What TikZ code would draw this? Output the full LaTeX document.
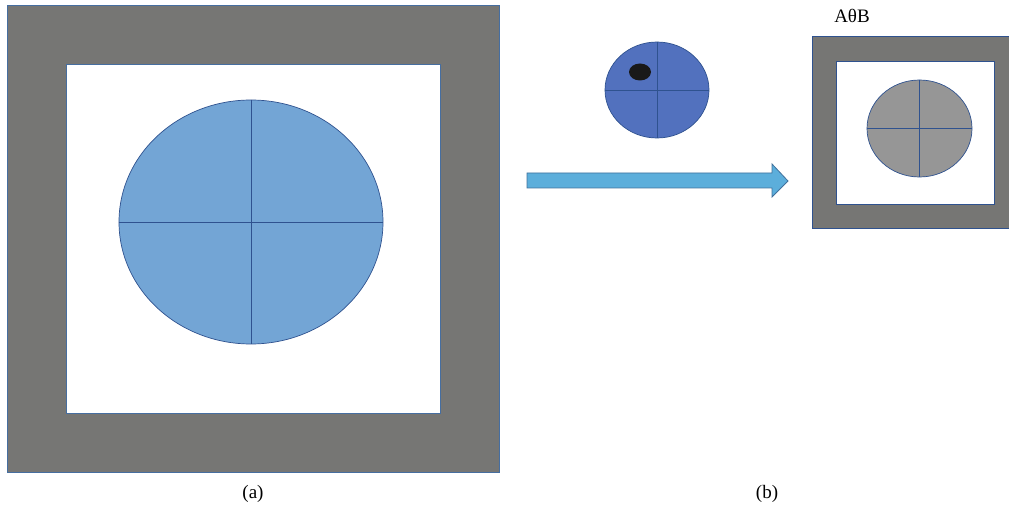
\documentclass[tikz,border=0pt]{standalone}
\usepackage{fontspec}
\setmainfont{Liberation Serif}
\usetikzlibrary{shapes.geometric}
\definecolor{FrameGray}{RGB}{118,118,116}
\definecolor{FrameEdge}{RGB}{70,110,160}
\definecolor{DiskEdge}{RGB}{47,82,143}
\definecolor{DiskLight}{RGB}{115,165,213}
\definecolor{DiskDark}{RGB}{82,113,190}
\definecolor{DiskGray}{RGB}{150,150,150}
\definecolor{ArrowFill}{RGB}{92,174,219}
\definecolor{ArrowEdge}{RGB}{65,113,156}

\begin{document}
\begin{tikzpicture}[x=1pt,y=-1pt]
    \useasboundingbox (0,0) rectangle (1009,513);
    % Draw frame (a)
    \fill[FrameGray, draw=FrameEdge, line width=0.8pt] (7,5) rectangle (499,472);
    \fill[white, draw=FrameEdge, line width=0.8pt] (66,64) rectangle (440,413);
    \node[draw=DiskEdge, fill=DiskLight, line width=0.7pt, ellipse, inner sep=0, minimum width=264, minimum height=244] (bigdisk) at (251,222) {};
    \draw[DiskEdge, line width=0.7pt] (bigdisk.north) -- (bigdisk.south);
    \draw[DiskEdge, line width=0.7pt] (bigdisk.west) -- (bigdisk.east);
    % Draw structuring element
    \node[draw=DiskEdge, fill=DiskDark, line width=0.7pt, ellipse, inner sep=0, minimum width=104, minimum height=96] (probe) at (657,90) {};
    \draw[DiskEdge, line width=0.7pt] (probe.north) -- (probe.south);
    \draw[DiskEdge, line width=0.7pt] (probe.west) -- (probe.east);
    \node[fill=black!90, ellipse, inner sep=0, minimum width=22, minimum height=17] (dot) at (640,72) {};
    % Draw block arrow
    \draw[ArrowEdge, fill=ArrowFill, line width=0.8pt] (527,173) -- (772,173) -- (772,164) -- (788,181)
        -- (772,197) -- (772,188) -- (527,188) -- cycle;
    % Draw frame (b)
    \fill[FrameGray, draw=DiskEdge, line width=0.8pt] (812,36) rectangle (1009,228);
    \fill[white, draw=DiskEdge, line width=0.8pt] (836,61) rectangle (994,204);
    \node[draw=DiskEdge, fill=DiskGray, line width=0.7pt, ellipse, inner sep=0, minimum width=105, minimum height=97] (result) at (919.5,128.5) {};
    \draw[DiskEdge, line width=0.7pt] (result.north) -- (result.south);
    \draw[DiskEdge, line width=0.7pt] (result.west) -- (result.east);
    \node[font=\fontsize{19}{22}\selectfont, anchor=base] (title) at (852,23) {AθB};
    % Draw captions
    \node[font=\fontsize{19}{22}\selectfont, anchor=base] (capa) at (253,498) {(a)};
    \node[font=\fontsize{19}{22}\selectfont, anchor=base] (capb) at (767,498) {(b)};
\end{tikzpicture}
\end{document}
